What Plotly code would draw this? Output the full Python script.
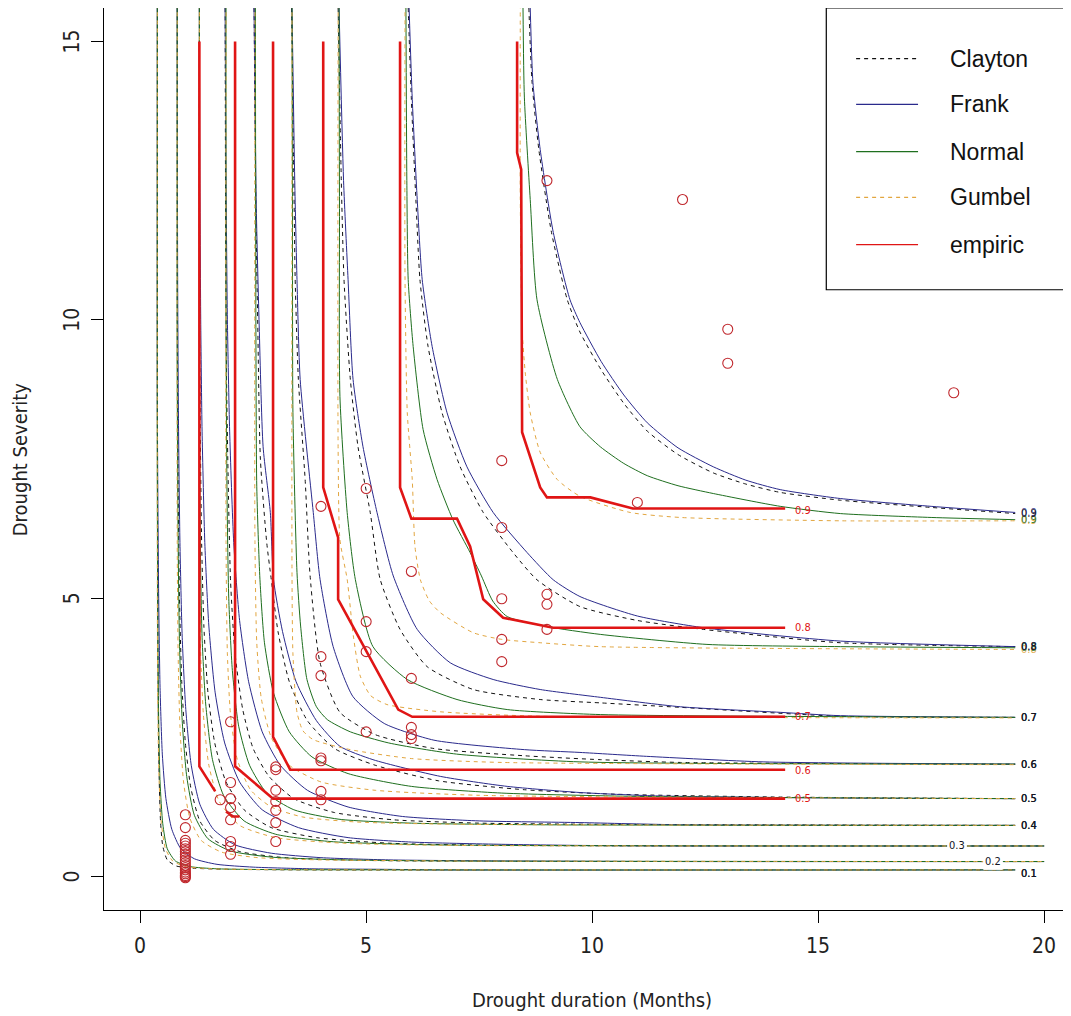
import plotly.graph_objects as go

# ---------------- data ----------------
levels = [0.1, 0.2, 0.3, 0.4, 0.5, 0.6, 0.7, 0.8, 0.9]
level_labels = ["0.1", "0.2", "0.3", "0.4", "0.5", "0.6", "0.7", "0.8", "0.9"]

# Clayton copula contours (x = duration, y = severity)
clayton_1 = [(0.38,15.6),(0.38,8),(0.39,5),(0.40,3),(0.42,1.8),(0.45,1.0),(0.50,0.55),(0.60,0.30),(0.80,0.19),(1.2,0.15),(2.0,0.13),(4,0.12),(19.36,0.12)]
clayton_2 = [(0.82,15.6),(0.82,10),(0.84,7),(0.87,5),(0.92,3.5),(1.0,2.4),(1.12,1.6),(1.32,1.0),(1.65,0.65),(2.2,0.45),(3.2,0.34),(5,0.29),(8,0.275),(20,0.27)]
clayton_3 = [(1.31,15.6),(1.31,11),(1.33,8),(1.36,6),(1.41,4.5),(1.5,3.3),(1.65,2.4),(1.9,1.7),(2.3,1.2),(2.9,0.88),(3.9,0.70),(5.5,0.60),(8,0.56),(20,0.55)]
clayton_4 = [(1.88,15.6),(1.89,12),(1.91,9),(1.95,7),(2.0,5.3),(2.1,4.0),(2.27,3.0),(2.5,2.3),(2.85,1.8),(3.4,1.4),(4.3,1.15),(5.6,1.02),(7.5,0.96),(10,0.94),(19.36,0.92)]
clayton_5 = [(2.52,15.6),(2.56,12),(2.60,10),(2.66,7.5),(2.80,6.0),(2.90,5.34),(3.05,4.4),(3.3,3.5),(3.7,2.8),(4.3,2.3),(5.2,2.0),(6.6,1.72),(8.5,1.56),(10.5,1.48),(14,1.43),(19.36,1.40)]
clayton_6 = [(3.35,15.6),(3.40,12.5),(3.43,10.72),(3.50,8.93),(3.65,7.13),(3.76,5.40),(3.98,3.84),(4.42,2.95),(5.2,2.55),(6.5,2.30),(8.5,2.17),(10.18,2.10),(11.95,2.05),(19.36,2.02)]
clayton_7 = [(4.38,15.6),(4.45,12.5),(4.51,10.72),(4.65,8.93),(4.82,7.72),(5.09,6.54),(5.31,5.34),(5.75,4.44),(6.35,3.77),(7.37,3.36),(8.85,3.18),(10.18,3.12),(11.95,3.04),(15.49,2.88),(19.36,2.86)]
clayton_8 = [(5.93,15.6),(6.0,13.96),(6.1,12.16),(6.19,10.72),(6.37,9.52),(6.68,8.33),(7.08,7.36),(7.59,6.54),(8.25,5.82),(8.78,5.33),(9.73,4.85),(11.0,4.6),(12.46,4.44),(15.49,4.20),(19.36,4.13)]
clayton_9 = [(8.60,15.6),(8.67,14.26),(8.82,13.06),(9.10,11.57),(9.45,10.36),(9.73,9.78),(10.2,9.10),(10.7,8.50),(11.22,8.0),(11.9,7.58),(12.68,7.25),(13.4,7.05),(14.16,6.90),(15.49,6.76),(17.5,6.63),(19.36,6.52)]

# Frank copula contours
frank_1 = [(0.38,15.6),(0.38,8.6),(0.39,7),(0.41,5),(0.44,3.4),(0.49,2.2),(0.57,1.4),(0.70,0.85),(0.9,0.5),(1.2,0.32),(1.7,0.22),(2.5,0.17),(3.8,0.14),(5.5,0.13),(6.5,0.12),(19.36,0.12)]
frank_2 = [(0.82,15.6),(0.83,10.6),(0.85,8),(0.88,6),(0.93,4.3),(1.01,3.0),(1.13,2.0),(1.32,1.3),(1.62,0.85),(2.1,0.57),(2.9,0.42),(4.0,0.34),(5.5,0.30),(8.2,0.28),(12,0.27),(20,0.27)]
frank_3 = [(1.31,15.6),(1.32,12.7),(1.34,10),(1.37,8),(1.43,6),(1.52,4.5),(1.66,3.3),(1.87,2.4),(2.2,1.7),(2.7,1.2),(3.5,0.88),(4.6,0.70),(6,0.62),(8,0.58),(9.73,0.56),(12,0.55),(20,0.55)]
frank_4 = [(1.88,15.6),(1.90,12.5),(1.93,10),(1.98,8),(2.07,6),(2.2,4.6),(2.4,3.5),(2.7,2.6),(3.1,2.0),(3.7,1.55),(4.6,1.25),(5.8,1.08),(7.5,1.0),(9.73,0.97),(12,0.93),(19.36,0.92)]
frank_5 = [(2.52,15.6),(2.57,12),(2.63,10),(2.72,7.72),(2.88,6.54),(2.95,5.34),(3.15,4.4),(3.45,3.5),(3.9,2.8),(4.42,2.34),(5.15,2.10),(6.64,1.80),(8.12,1.62),(9.73,1.51),(11.4,1.45),(15.5,1.41),(19.36,1.40)]
frank_6 = [(3.36,15.6),(3.42,12.5),(3.47,10.72),(3.54,8.93),(3.83,6.54),(3.98,5.34),(4.27,4.13),(4.71,3.23),(5.4,2.75),(6.5,2.45),(8.5,2.28),(9.73,2.23),(11.2,2.16),(13.8,2.06),(19.36,2.02)]
frank_7 = [(4.40,15.6),(4.50,12.5),(4.60,10.72),(4.71,8.93),(4.93,7.72),(5.24,6.54),(5.60,5.40),(6.13,4.44),(6.86,3.84),(7.81,3.54),(8.85,3.36),(10.18,3.22),(11.95,3.05),(14.16,2.95),(15.49,2.89),(19.36,2.86)]
frank_8 = [(5.95,15.6),(6.02,13.96),(6.13,12.16),(6.24,10.72),(6.46,9.52),(6.79,8.33),(7.23,7.36),(7.81,6.54),(8.56,5.82),(9.14,5.33),(9.73,5.03),(11.0,4.68),(12.46,4.47),(15.49,4.23),(19.36,4.13)]
frank_9 = [(8.63,15.6),(8.69,14.26),(8.85,13.06),(9.14,11.57),(9.51,10.36),(9.73,9.95),(10.2,9.25),(10.7,8.65),(11.22,8.15),(11.9,7.70),(12.68,7.36),(13.4,7.12),(14.16,6.95),(15.49,6.79),(17.5,6.65),(19.36,6.54)]

# Normal copula contours
normal_1 = [(0.38,15.6),(0.38,7),(0.39,4.5),(0.41,2.8),(0.44,1.7),(0.50,0.95),(0.60,0.50),(0.78,0.28),(1.1,0.18),(1.7,0.14),(3,0.125),(19.36,0.12)]
normal_2 = [(0.82,15.6),(0.82,9),(0.84,6),(0.87,4.2),(0.93,2.8),(1.03,1.8),(1.2,1.1),(1.5,0.68),(2.0,0.46),(2.9,0.35),(4.5,0.30),(7,0.28),(20,0.27)]
normal_3 = [(1.31,15.6),(1.31,9),(1.33,6),(1.37,4.3),(1.45,3.1),(1.6,2.1),(1.85,1.45),(2.3,1.0),(3.0,0.76),(4.2,0.63),(6.5,0.57),(20,0.55)]
normal_4 = [(1.90,15.6),(1.90,10),(1.92,7),(1.96,5),(2.04,3.7),(2.18,2.7),(2.42,2.0),(2.8,1.5),(3.4,1.2),(4.4,1.03),(6,0.96),(9,0.93),(19.36,0.92)]
normal_5 = [(2.55,15.6),(2.56,10),(2.58,7),(2.65,5.34),(2.75,4.2),(2.95,3.3),(3.3,2.6),(3.8,2.15),(4.6,1.85),(6,1.62),(8,1.50),(11,1.44),(19.36,1.40)]
normal_6 = [(3.36,15.6),(3.37,12.0),(3.38,8.33),(3.47,5.46),(3.55,4.5),(3.69,3.54),(3.9,3.05),(4.14,2.82),(4.65,2.60),(5.5,2.40),(7.0,2.20),(9.73,2.06),(19.36,2.02)]
normal_7 = [(4.40,15.6),(4.41,12.0),(4.42,8.62),(4.58,6.54),(4.76,5.34),(5.15,4.13),(5.91,3.54),(7.01,3.18),(8.12,3.00),(10.18,2.91),(19.36,2.86)]
normal_8 = [(5.88,15.6),(5.90,12.5),(5.93,10.72),(6.04,9.52),(6.26,8.03),(6.57,7.13),(6.92,6.41),(7.30,5.82),(7.55,5.40),(7.80,4.95),(8.12,4.67),(9.0,4.49),(10.18,4.35),(12.54,4.17),(15.49,4.13),(19.36,4.11)]
normal_9 = [(8.47,15.6),(8.50,14.0),(8.63,12.16),(8.78,10.36),(9.23,8.93),(9.73,8.08),(10.18,7.72),(10.7,7.42),(11.22,7.20),(11.9,7.02),(12.68,6.88),(14.16,6.65),(15.49,6.52),(17.5,6.45),(19.36,6.41)]

# Gumbel copula contours
gumbel_1 = [(0.38,15.67),(0.38,5),(0.39,3),(0.42,1.7),(0.47,0.95),(0.56,0.50),(0.72,0.28),(1.0,0.18),(1.6,0.14),(3,0.125),(19.36,0.12)]
gumbel_2 = [(0.82,15.67),(0.82,6),(0.84,4),(0.88,2.7),(0.96,1.7),(1.1,1.05),(1.35,0.65),(1.8,0.44),(2.6,0.34),(4,0.30),(7,0.28),(20,0.27)]
gumbel_3 = [(1.31,15.67),(1.31,6),(1.34,4),(1.40,2.9),(1.52,2.0),(1.75,1.35),(2.2,0.92),(3.0,0.70),(4.5,0.60),(7,0.56),(20,0.55)]
gumbel_4 = [(1.90,15.67),(1.90,6),(1.93,4),(2.0,2.9),(2.15,2.1),(2.45,1.55),(2.9,1.25),(3.6,1.07),(4.8,0.98),(7,0.94),(19.36,0.92)]
gumbel_5 = [(2.54,15.67),(2.54,6),(2.58,4.2),(2.68,3.2),(2.9,2.5),(3.3,2.0),(4.0,1.70),(5.2,1.55),(7.5,1.46),(19.36,1.40)]
gumbel_6 = [(3.36,15.67),(3.36,5.34),(3.38,4.0),(3.47,2.95),(3.6,2.62),(3.83,2.46),(4.65,2.28),(6.0,2.12),(8.0,2.05),(19.36,2.01)]
gumbel_7 = [(4.38,15.67),(4.38,7.67),(4.42,6.05),(4.58,5.34),(4.72,4.30),(4.87,3.60),(5.1,3.25),(5.46,3.09),(6.64,2.96),(8.85,2.88),(19.36,2.85)]
gumbel_8 = [(5.86,15.67),(5.86,10.72),(5.91,8.33),(6.02,7.13),(6.08,5.93),(6.20,5.33),(6.40,4.95),(6.64,4.74),(7.37,4.38),(8.0,4.26),(8.85,4.20),(10.18,4.13),(19.36,4.08)]
gumbel_9 = [(8.41,15.67),(8.41,12.16),(8.45,9.83),(8.52,9.05),(8.63,8.33),(8.85,7.62),(9.23,7.13),(9.73,6.83),(10.84,6.54),(11.95,6.45),(15.49,6.39),(19.36,6.39)]

# Empirical copula contours
empiric_3 = [(1.90,1.17),(2.05,1.08),(2.20,1.08)]
empiric_4 = [(1.31,15.0),(1.31,1.98),(1.66,1.53)]
empiric_5 = [(2.10,15.0),(2.10,1.98),(2.94,1.40),(14.27,1.40)]
empiric_6 = [(2.94,15.0),(2.94,2.51),(3.32,1.92),(14.27,1.92)]
empiric_7 = [(4.05,15.0),(4.05,6.99),(4.38,6.09),(4.38,4.98),(5.71,3.0),(6.02,2.87),(14.27,2.87)]
empiric_8 = [(5.75,15.0),(5.75,6.99),(6.0,6.43),(7.01,6.43),(7.30,5.93),(7.59,4.98),(8.03,4.65),(9.14,4.47),(14.27,4.47)]
empiric_9 = [(8.34,15.0),(8.34,13.0),(8.43,12.7),(8.45,7.98),(8.85,6.99),(9.0,6.81),(9.96,6.81),(10.9,6.61),(14.27,6.61)]
empiric_label_levels = ["0.5", "0.6", "0.7", "0.8", "0.9"]
empiric_label_y = [1.40, 1.90, 2.87, 4.47, 6.58]

# where the copula contour labels sit along x (one per level)
label_x = [19.67, 18.87, 18.07, 19.67, 19.67, 19.67, 19.67, 19.67, 19.67]

# observed droughts
obs_duration = [9, 12, 13, 13, 18, 11, 8, 8, 4, 5, 6, 8, 9, 9, 9, 5, 5, 8, 8, 4, 4, 6, 5, 6, 6, 6,
                4, 4, 3, 3, 3, 3, 3, 3, 3, 4, 4, 2, 2, 2, 2, 2, 2, 2, 2, 1.77,
                1, 1, 1, 1, 1, 1, 1, 1, 1, 1, 1, 1, 1, 1, 1, 1, 1, 1, 1]
obs_severity = [12.5, 12.16, 9.83, 9.22, 8.69, 6.72, 7.47, 6.27, 6.65, 6.97, 5.48, 4.99, 5.07, 4.89, 4.44,
                4.58, 4.04, 4.26, 3.86, 3.95, 3.61, 3.56, 2.60, 2.68, 2.55, 2.48,
                2.13, 2.08, 1.97, 1.92, 1.55, 1.35, 1.19, 0.97, 0.63, 1.53, 1.38, 2.78, 1.69, 1.40, 1.24,
                1.02, 0.63, 0.54, 0.40, 1.38,
                1.11, 0.88, 0.65, 0.60, 0.55, 0.50, 0.45, 0.40, 0.35, 0.30, 0.25, 0.20, 0.16, 0.12, 0.08, 0.05, 0.02, 0.0, -0.02]

x_ticks = [0, 5, 10, 15, 20]
y_ticks = [0, 5, 10, 15]
legend_names = ["Clayton", "Frank", "Normal", "Gumbel", "empiric"]

# ---------------- styling ----------------
COL = {"Clayton": "#111111", "Frank": "#2a2a8c", "Normal": "#1f6f1f",
       "Gumbel": "#e2a640", "empiric": "#e01515"}
DASH = {"Clayton": "4px,4px", "Frank": "solid", "Normal": "solid",
        "Gumbel": "4px,4px", "empiric": "solid"}
WID = {"Clayton": 1, "Frank": 1, "Normal": 1, "Gumbel": 1, "empiric": 2.6}
AXFONT = "Liberation Sans Narrow, DejaVu Sans Condensed, Liberation Sans, Arial"

fig = go.Figure()

def add_curve(pts, name):
    fig.add_trace(go.Scatter(
        x=[p[0] for p in pts], y=[p[1] for p in pts], mode="lines",
        line=dict(color=COL[name], width=WID[name], dash=DASH[name],
                  shape="spline", smoothing=0.6),
        showlegend=False, hoverinfo="skip"))

families = [
    ("Clayton", [clayton_1, clayton_2, clayton_3, clayton_4, clayton_5, clayton_6, clayton_7, clayton_8, clayton_9]),
    ("Frank", [frank_1, frank_2, frank_3, frank_4, frank_5, frank_6, frank_7, frank_8, frank_9]),
    ("Normal", [normal_1, normal_2, normal_3, normal_4, normal_5, normal_6, normal_7, normal_8, normal_9]),
    ("Gumbel", [gumbel_1, gumbel_2, gumbel_3, gumbel_4, gumbel_5, gumbel_6, gumbel_7, gumbel_8, gumbel_9]),
]
for name, curves in families:
    for c in curves:
        add_curve(c, name)

for c in [empiric_3, empiric_4, empiric_5, empiric_6, empiric_7, empiric_8, empiric_9]:
    fig.add_trace(go.Scatter(
        x=[p[0] for p in c], y=[p[1] for p in c], mode="lines",
        line=dict(color=COL["empiric"], width=WID["empiric"]),
        showlegend=False, hoverinfo="skip"))

fig.add_trace(go.Scatter(
    x=obs_duration, y=obs_severity, mode="markers",
    marker=dict(symbol="circle-open", size=10, color="#c0282d", line=dict(width=1.1)),
    showlegend=False, hoverinfo="skip"))

annotations = []
# one label per copula contour, in the contour colour, at its right end
for name, curves in [families[3], families[2], families[1], families[0]]:
    for lab, xl, c in zip(level_labels, label_x, curves):
        yend = c[-1][1] if lab != "0.1" else 0.05
        ann = dict(x=xl, y=yend, xref="x", yref="y", text=lab, showarrow=False,
                   font=dict(size=11, color=COL[name], family=AXFONT),
                   xanchor="center", yanchor="middle", opacity=0.85)
        if lab in ("0.2", "0.3"):
            ann["bgcolor"] = "white"
        annotations.append(ann)

for lab, yv in zip(empiric_label_levels, empiric_label_y):
    annotations.append(dict(x=14.67, y=yv, xref="x", yref="y", text=lab, showarrow=False,
                            font=dict(size=11, color=COL["empiric"], family=AXFONT),
                            xanchor="center", yanchor="middle"))

# tick labels
for t in x_ticks:
    annotations.append(dict(x=t, y=-0.0395, xref="x", yref="paper", text=str(t), showarrow=False,
                            font=dict(size=21, color="#222", family=AXFONT),
                            xanchor="center", yanchor="middle"))
for t in y_ticks:
    annotations.append(dict(x=-0.0331, y=t, xref="paper", yref="y", text=str(t), showarrow=False,
                            textangle=-90, font=dict(size=21, color="#222", family=AXFONT),
                            xanchor="center", yanchor="middle"))

# axis titles
annotations.append(dict(x=0.5048, y=-0.0998, xref="paper", yref="paper", text="Drought duration (Months)",
                        showarrow=False, font=dict(size=20, color="#222", family=AXFONT),
                        xanchor="center", yanchor="middle"))
annotations.append(dict(x=-0.0866, y=0.4989, xref="paper", yref="paper", text="Drought Severity",
                        showarrow=False, textangle=-90, font=dict(size=20, color="#222", family=AXFONT),
                        xanchor="center", yanchor="middle"))

# manual legend (R style box at top right)
shapes = [dict(type="rect", xref="x", yref="y", x0=15.18, x1=21.5, y0=10.54, y1=15.6,
               line=dict(color="black", width=1.2), fillcolor="white", layer="above")]
leg_y = [14.69, 13.87, 13.02, 12.20, 11.35]
for nm, yy in zip(legend_names, leg_y):
    shapes.append(dict(type="line", xref="x", yref="y", x0=15.84, x1=17.21, y0=yy, y1=yy,
                       line=dict(color=COL[nm], width=1.2 if nm != "empiric" else 1.4,
                                 dash="4px,4px" if DASH[nm] != "solid" else "solid"),
                       layer="above"))
    annotations.append(dict(x=17.88, y=yy, xref="x", yref="y", text=nm, showarrow=False,
                            font=dict(size=23, color="#111", family="Liberation Sans, Arial"),
                            xanchor="left", yanchor="middle"))

# the page body adds an 8px offset, so the figure is sized to end at the window edge
fig.update_layout(
    width=1063, height=1008,
    margin=dict(l=96, r=0, t=0, b=106),
    paper_bgcolor="white", plot_bgcolor="white",
    xaxis=dict(range=[-0.8, 20.594], tickvals=x_ticks, showticklabels=False,
               ticks="outside", ticklen=12, tickwidth=1.2, tickcolor="black",
               showline=True, linecolor="black", linewidth=1.2, mirror=True,
               showgrid=False, zeroline=False),
    yaxis=dict(range=[-0.6, 15.6], tickvals=y_ticks, showticklabels=False,
               ticks="outside", ticklen=12, tickwidth=1.2, tickcolor="black",
               showline=True, linecolor="black", linewidth=1.2, mirror=False,
               showgrid=False, zeroline=False),
    annotations=annotations, shapes=shapes, showlegend=False,
)

fig.write_html("out.html")
